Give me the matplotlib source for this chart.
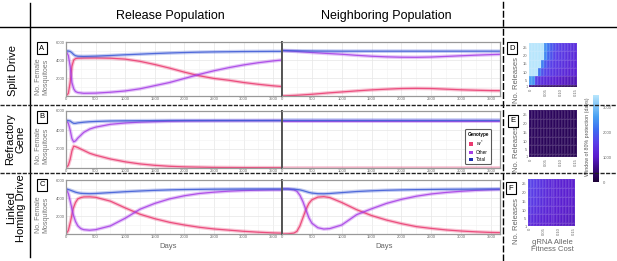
import numpy as np
import matplotlib.pyplot as plt
from matplotlib.lines import Line2D
from matplotlib.patches import Patch
from matplotlib.colors import LinearSegmentedColormap

plt.rcParams['font.family'] = ['Liberation Sans', 'DejaVu Sans']

# ---- time series data (days, number of female mosquitoes) ----
a_rel_days = [0, 40, 70, 100, 130, 160, 200, 300, 500, 750, 1000, 1250, 1500, 1750, 2000, 2250, 2500, 2750, 3000, 3250, 3500, 3650]
a_rel_total = [5000, 5000, 4950, 4800, 4600, 4480, 4420, 4400, 4430, 4500, 4580, 4650, 4720, 4780, 4830, 4870, 4900, 4920, 4940, 4950, 4960, 4960]
a_rel_w = [0, 300, 1500, 3300, 4000, 4150, 4200, 4220, 4230, 4200, 4100, 3850, 3500, 3100, 2650, 2250, 1950, 1750, 1500, 1300, 1130, 1050]
a_rel_other = [5000, 4500, 3300, 1500, 800, 500, 380, 300, 320, 420, 560, 800, 1150, 1500, 1950, 2400, 2800, 3150, 3450, 3700, 3900, 4000]

a_nb_days = [0, 250, 500, 750, 1000, 1250, 1500, 1750, 2000, 2250, 2500, 2750, 3000, 3250, 3500, 3650]
a_nb_total = [5050, 5020, 5000, 4990, 4980, 4980, 4980, 4980, 4980, 4980, 4980, 4980, 4980, 4980, 4980, 4980]
a_nb_w = [0, 80, 190, 330, 450, 570, 680, 760, 830, 850, 830, 760, 690, 640, 600, 590]
a_nb_other = [5050, 4950, 4830, 4730, 4640, 4520, 4420, 4350, 4310, 4300, 4330, 4400, 4470, 4540, 4600, 4630]

b_rel_days = [0, 40, 70, 100, 130, 160, 200, 300, 400, 500, 750, 1000, 1250, 1500, 1750, 2000, 2500, 3000, 3500, 3650]
b_rel_total = [5000, 5000, 4950, 4800, 4700, 4700, 4750, 4820, 4870, 4900, 4950, 4970, 4980, 4990, 5000, 5000, 5000, 5000, 5000, 5000]
b_rel_w = [0, 300, 900, 1800, 2300, 2250, 2150, 1850, 1550, 1350, 950, 650, 430, 280, 180, 120, 60, 40, 30, 30]
b_rel_other = [5000, 4700, 4000, 3100, 2750, 2850, 3150, 3750, 4100, 4300, 4600, 4740, 4830, 4880, 4920, 4950, 4970, 4980, 4990, 4990]

b_nb_days = [0, 500, 1000, 1500, 2000, 2500, 3000, 3500, 3650]
b_nb_total = [5050, 5050, 5050, 5050, 5050, 5050, 5050, 5050, 5050]
b_nb_w = [0, 0, 0, 0, 0, 0, 0, 0, 0]
b_nb_other = [5000, 5000, 5000, 5000, 5000, 5000, 5000, 5000, 5000]

c_rel_days = [0, 40, 80, 120, 160, 200, 250, 300, 400, 500, 750, 1000, 1250, 1500, 1750, 2000, 2250, 2500, 2750, 3000, 3250, 3500, 3650]
c_rel_total = [5000, 4950, 4850, 4750, 4650, 4580, 4520, 4500, 4480, 4500, 4600, 4700, 4780, 4850, 4900, 4940, 4960, 4980, 4990, 5000, 5000, 5000, 5000]
c_rel_w = [0, 400, 1500, 2800, 3500, 3900, 4050, 4120, 4130, 4080, 3650, 2900, 2200, 1700, 1300, 1000, 750, 560, 430, 300, 200, 120, 90]
c_rel_other = [5000, 4500, 3400, 2200, 1400, 900, 600, 480, 420, 480, 900, 1750, 2750, 3400, 3900, 4250, 4500, 4650, 4760, 4830, 4870, 4900, 4900]

c_nb_days = [0, 100, 200, 250, 300, 350, 400, 450, 500, 600, 700, 800, 1000, 1250, 1500, 1750, 2000, 2250, 2500, 2750, 3000, 3250, 3500, 3650]
c_nb_total = [5000, 5000, 4980, 4950, 4900, 4820, 4720, 4620, 4550, 4480, 4470, 4500, 4600, 4720, 4800, 4860, 4900, 4930, 4950, 4970, 4980, 4990, 5000, 5000]
c_nb_w = [0, 20, 100, 300, 900, 1800, 2700, 3400, 3800, 4100, 4150, 4050, 3500, 2700, 2050, 1550, 1150, 820, 620, 450, 330, 240, 170, 150]
c_nb_other = [5000, 5000, 4900, 4750, 4300, 3600, 2700, 1800, 1200, 700, 550, 600, 1000, 2150, 2800, 3400, 3850, 4200, 4450, 4620, 4750, 4850, 4920, 4950]

# ---- heatmap data: window of 80% protection (days) ----
fitness_cost = [0.00, 0.01, 0.02, 0.03, 0.04, 0.05, 0.06, 0.07, 0.08, 0.09, 0.10, 0.11, 0.12, 0.13, 0.14, 0.15]
releases = [1, 5, 10, 15, 20, 25]
release_edges = [1, 2.5, 7.5, 12.5, 17.5, 22.5, 27.5]

d_split = [
    [500, 450, 400, 380, 350, 330, 320, 300, 290, 280, 270, 260, 250, 240, 230, 220],
    [2600, 2500, 1600, 1400, 1300, 1250, 1200, 1150, 1100, 1050, 1000, 980, 950, 920, 900, 880],
    [3500, 3500, 3500, 2200, 1800, 1650, 1550, 1450, 1400, 1350, 1300, 1250, 1200, 1150, 1120, 1100],
    [3500, 3500, 3500, 3500, 2300, 1900, 1700, 1600, 1500, 1450, 1400, 1350, 1300, 1250, 1200, 1150],
    [3500, 3500, 3500, 3500, 3500, 2400, 2000, 1800, 1650, 1550, 1500, 1450, 1400, 1350, 1300, 1250],
    [3500, 3500, 3500, 3500, 3500, 2500, 2200, 1900, 1750, 1650, 1550, 1500, 1450, 1400, 1350, 1300],
]
e_refractory = [
    [240, 240, 235, 235, 230, 230, 225, 225, 220, 220, 215, 215, 210, 210, 205, 205],
    [260, 255, 255, 250, 250, 245, 245, 240, 240, 235, 235, 230, 230, 225, 225, 220],
    [270, 265, 265, 260, 260, 255, 255, 250, 250, 245, 245, 240, 240, 235, 235, 230],
    [280, 275, 270, 270, 265, 265, 260, 260, 255, 255, 250, 250, 245, 245, 240, 240],
    [290, 285, 280, 275, 275, 270, 270, 265, 265, 260, 260, 255, 255, 250, 250, 245],
    [300, 295, 290, 285, 280, 280, 275, 275, 270, 270, 265, 265, 260, 260, 255, 255],
]
f_linked = [
    [1250, 1200, 1150, 1100, 1080, 1060, 1040, 1020, 1000, 990, 980, 970, 960, 950, 940, 930],
    [1350, 1300, 1250, 1200, 1150, 1120, 1100, 1080, 1060, 1040, 1020, 1000, 990, 980, 970, 960],
    [1450, 1400, 1350, 1300, 1250, 1200, 1160, 1130, 1100, 1080, 1060, 1040, 1020, 1010, 1000, 990],
    [1550, 1500, 1450, 1380, 1320, 1260, 1210, 1170, 1140, 1110, 1090, 1070, 1050, 1040, 1030, 1020],
    [1600, 1550, 1500, 1430, 1360, 1300, 1250, 1200, 1160, 1130, 1110, 1090, 1070, 1060, 1050, 1040],
    [1650, 1600, 1550, 1470, 1400, 1330, 1270, 1220, 1180, 1150, 1120, 1100, 1080, 1070, 1060, 1050],
]

C_TOTAL = '#3d5ad6'
C_OTHER = '#a63ee6'
C_W = '#ea3a70'

W, H = 617, 261
fig = plt.figure(figsize=(W / 100, H / 100), dpi=100)


def rect(x0, y0, x1, y1):
    return [x0 / W, 1 - y1 / H, (x1 - x0) / W, (y1 - y0) / H]


def band(ax, d, v, c):
    ax.plot(d, v, color=c, lw=2.6, alpha=0.3, solid_capstyle='butt')
    ax.plot(d, v, color=c, lw=0.9, alpha=0.85)


def series_axes(r, left):
    ax = fig.add_axes(r)
    ax.set_xlim(0, 3650)
    ax.set_ylim(0, 6000)
    ax.set_xticks([0, 500, 1000, 1500, 2000, 2500, 3000, 3500])
    ax.set_xticks([250, 750, 1250, 1750, 2250, 2750, 3250], minor=True)
    ax.set_yticks([2000, 4000, 6000])
    ax.set_yticks([1000, 3000, 5000], minor=True)
    ax.grid(which='major', color='#e6e6e6', lw=0.5)
    ax.grid(which='minor', color='#f2f2f2', lw=0.4)
    ax.tick_params(which='both', length=0, labelsize=3, labelcolor='#666', pad=1)
    if not left:
        ax.set_yticklabels([])
    for s in ax.spines.values():
        s.set_color('#999999')
        s.set_linewidth(0.9)
    side = 'right' if left else 'left'
    ax.spines[side].set_color('#555555')
    ax.spines[side].set_linewidth(1.4)
    ax.set_axisbelow(True)
    return ax


rows = [
    (42, 96, (a_rel_days, a_rel_total, a_rel_w, a_rel_other), (a_nb_days, a_nb_total, a_nb_w, a_nb_other)),
    (111, 168, (b_rel_days, b_rel_total, b_rel_w, b_rel_other), (b_nb_days, b_nb_total, b_nb_w, b_nb_other)),
    (180, 234, (c_rel_days, c_rel_total, c_rel_w, c_rel_other), (c_nb_days, c_nb_total, c_nb_w, c_nb_other)),
]
series_ax = []
for y0, y1, rel, nb in rows:
    for (x0, x1, dat, left) in [(66, 282, rel, True), (282, 500, nb, False)]:
        ax = series_axes(rect(x0, y0, x1, y1), left)
        d, tot, w, oth = dat
        band(ax, d, w, C_W)
        band(ax, d, oth, C_OTHER)
        band(ax, d, tot, C_TOTAL)
        series_ax.append(ax)

# legend in the refractory neighbouring panel
handles = [Patch(fc=C_W, ec='none'), Patch(fc=C_OTHER, ec='none'), Patch(fc='#2030b0', ec='none')]
leg = series_ax[3].legend(handles, ['$w^{*}$', 'Other', 'Total'], title='Genotype',
                          loc='upper left', bbox_to_anchor=(463 / W, 1 - 127 / H),
                          bbox_transform=fig.transFigure, fontsize=3.3, title_fontsize=3.3,
                          handlelength=0.9, handleheight=0.9, handletextpad=0.5,
                          labelspacing=0.45, borderpad=0.5, frameon=True, fancybox=True)
leg.get_title().set_fontweight('bold')
leg.get_frame().set_edgecolor('#333333')
leg.get_frame().set_linewidth(0.8)

# heatmaps
cmap = LinearSegmentedColormap.from_list('prot', [
    (0.0, '#1c0136'), (0.15, '#3a0a80'), (0.3, '#5b1ed0'), (0.45, '#5a3ee8'),
    (0.6, '#3e6cf0'), (0.75, '#48a0f2'), (1.0, '#b8e6fc')])
x_edges = [c - 0.005 for c in fitness_cost] + [fitness_cost[-1] + 0.005]
heat_rects = [rect(529, 43, 577, 87), rect(529, 110, 577, 157), rect(528, 179, 575, 226)]
for r, mat in zip(heat_rects, [d_split, e_refractory, f_linked]):
    hx = fig.add_axes(r)
    mesh = hx.pcolormesh(x_edges, release_edges, np.array(mat), cmap=cmap, vmin=0, vmax=3500,
                         edgecolors=(1, 1, 1, 0.08), linewidth=0.2)
    hx.set_xlim(x_edges[0], x_edges[-1])
    hx.set_ylim(release_edges[0], release_edges[-1])
    hx.set_yticks(releases)
    hx.set_xticks([0, 0.05, 0.10, 0.15])
    hx.set_xticklabels(['0', '0.05', '0.10', '0.15'], rotation=90)
    hx.tick_params(length=0, labelsize=3, labelcolor='#666', pad=1)
    for s in hx.spines.values():
        s.set_visible(False)

cax = fig.add_axes(rect(593, 95, 599, 182))
cb = fig.colorbar(mesh, cax=cax, ticks=[0, 1000, 2000, 3000])
cb.outline.set_visible(False)
cax.tick_params(length=0, labelsize=3, labelcolor='#666', pad=3)
fig.text(587 / W, 1 - 137 / H, 'Window of 80% protection (days)', rotation=90,
         ha='center', va='center', fontsize=3.8, color='#555')

# frame lines
fig.add_artist(Line2D([0, 1], [1 - 27 / H] * 2, color='black', lw=1))
fig.add_artist(Line2D([30 / W] * 2, [1 - 3 / H, 1 - 257 / H], color='black', lw=1))
fig.add_artist(Line2D([503 / W] * 2, [0, 1], color='black', lw=1, ls=(0, (5, 1.5))))
for yy in (105, 173):
    fig.add_artist(Line2D([0, 1], [1 - yy / H] * 2, color='#222', lw=1, ls=(0, (3, 1))))

# headers and row labels
fig.text(170 / W, 1 - 16 / H, 'Release Population', ha='center', va='center', fontsize=9)
fig.text(386 / W, 1 - 16 / H, 'Neighboring Population', ha='center', va='center', fontsize=9)
fig.text(13 / W, 1 - 70 / H, 'Split Drive', rotation=90, ha='center', va='center', fontsize=8)
fig.text(15 / W, 1 - 139 / H, 'Refractory\nGene', rotation=90, ha='center', va='center',
         fontsize=8, linespacing=1.0)
fig.text(16 / W, 1 - 208 / H, 'Linked\nHoming Drive', rotation=90, ha='center', va='center',
         fontsize=8, linespacing=1.0)

for yc in (77, 146, 215):
    fig.text(42 / W, 1 - yc / H, 'No. Female\nMosquitoes', rotation=90, ha='center', va='center',
             fontsize=5, color='#777', linespacing=1.0)
for xc in (168, 384):
    fig.text(xc / W, 1 - 246 / H, 'Days', ha='center', va='center', fontsize=5.5, color='#666')
for yc in (80, 149, 221):
    fig.text(516 / W, 1 - yc / H, 'No. Releases', rotation=90, ha='center', va='center',
             fontsize=5.5, color='#666')
fig.text(552 / W, 1 - 246 / H, 'gRNA Allele\nFitness Cost', ha='center', va='center',
         fontsize=5.5, color='#666', linespacing=1.1)

# panel letters
box = dict(boxstyle='square,pad=0.3', fc='white', ec='black', lw=0.8)
for lab, x, y in [('A', 42, 48), ('B', 42, 117), ('C', 42, 185),
                  ('D', 512, 48), ('E', 513, 121), ('F', 511, 188)]:
    fig.text(x / W, 1 - y / H, lab, ha='center', va='center', fontsize=5.5, bbox=box)

fig.savefig('out.png', dpi=100)
